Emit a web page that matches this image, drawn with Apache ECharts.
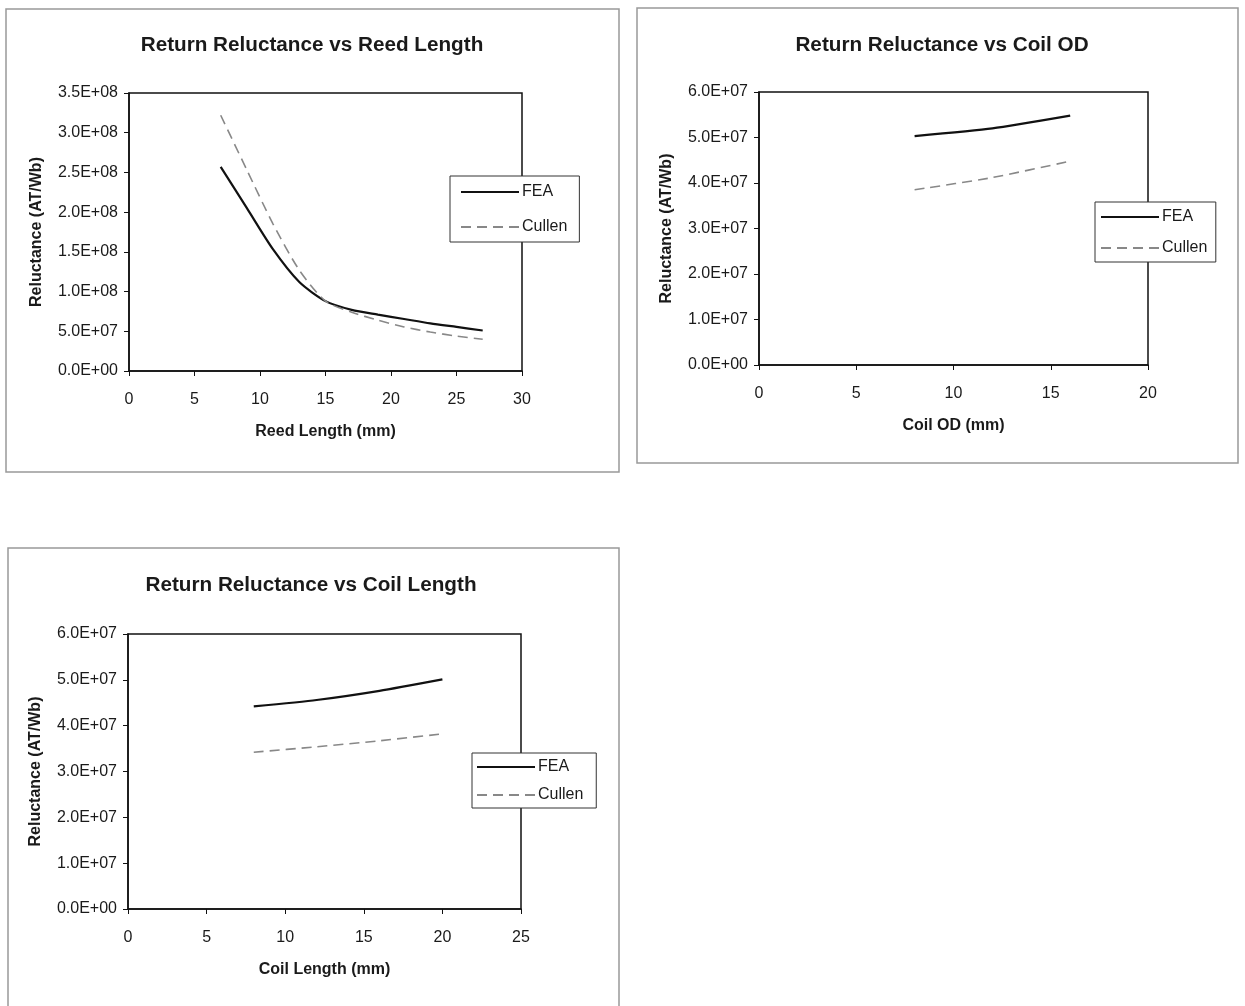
<!DOCTYPE html>
<html>
<head>
<meta charset="utf-8">
<script src="https://cdn.jsdelivr.net/npm/echarts@6/dist/echarts.min.js"></script>
<style>
  html, body { margin: 0; padding: 0; background: #fff; }
  #main { width: 1245px; height: 1006px; }
</style>
</head>
<body>
<div id="main"></div>
<script>
// chart 1: reed length
var reedLength = [7, 9, 11, 13, 15, 17, 19, 21, 23, 25, 27];
var reedFEA = [2.57e8, 2.05e8, 1.53e8, 1.12e8, 0.88e8, 0.77e8, 0.71e8, 0.655e8, 0.60e8, 0.555e8, 0.51e8];
var reedCullen = [3.22e8, 2.53e8, 1.85e8, 1.27e8, 0.88e8, 0.74e8, 0.64e8, 0.555e8, 0.49e8, 0.44e8, 0.40e8];

// chart 2: coil OD
var coilOD = [8, 12, 16];
var odFEA = [5.03e7, 5.2e7, 5.48e7];
var odCullen = [3.85e7, 4.12e7, 4.48e7];

// chart 3: coil length
var coilLength = [8, 12, 16, 20];
var lenFEA = [4.42e7, 4.56e7, 4.76e7, 5.01e7];
var lenCullen = [3.42e7, 3.54e7, 3.67e7, 3.82e7];

var titles = ['Return Reluctance vs Reed Length', 'Return Reluctance vs Coil OD', 'Return Reluctance vs Coil Length'];
var xNames = ['Reed Length (mm)', 'Coil OD (mm)', 'Coil Length (mm)'];
var yName = 'Reluctance (AT/Wb)';

var FONT = '"Liberation Sans", Arial, sans-serif';
var INK = '#1a1a1a';

function sci(v) {
  if (v === 0) return '0.0E+00';
  var e = Math.floor(Math.log10(Math.abs(v)) + 1e-9);
  var m = v / Math.pow(10, e);
  var es = (e < 0 ? '-' : '+') + (Math.abs(e) < 10 ? '0' : '') + Math.abs(e);
  return m.toFixed(1) + 'E' + es;
}

function pairs(xs, ys) {
  var out = [];
  for (var i = 0; i < xs.length; i++) out.push([xs[i], ys[i]]);
  return out;
}

var grids = [
  { left: 129, top: 93, width: 393, height: 278 },
  { left: 759, top: 92, width: 389, height: 273 },
  { left: 128, top: 634, width: 393, height: 275 }
];
var xMax = [30, 20, 25];
var yMax = [3.5e8, 6e7, 6e7];
var yStep = [5e7, 1e7, 1e7];
var smoothness = [0.25, 0.2, 0.2];

var option = {
  backgroundColor: '#fff',
  animation: false,
  textStyle: { fontFamily: FONT },
  title: [
    { text: titles[0], left: 307, top: 30, textAlign: 'center' },
    { text: titles[1], left: 937, top: 30, textAlign: 'center' },
    { text: titles[2], left: 306, top: 570, textAlign: 'center' }
  ].map(function (t) {
    t.textStyle = { fontFamily: FONT, fontSize: 20.7, fontWeight: 'bold', color: INK };
    return t;
  }),
  grid: grids.map(function (g) {
    return Object.assign({ show: true, borderColor: '#111', borderWidth: 1.5, backgroundColor: '#fff' }, g);
  }),
  xAxis: grids.map(function (g, i) {
    return {
      type: 'value', gridIndex: i, min: 0, max: xMax[i], interval: 5,
      name: xNames[i], nameLocation: 'middle', nameGap: 53,
      nameTextStyle: { fontFamily: FONT, fontSize: 16, fontWeight: 'bold', color: INK },
      axisLine: { lineStyle: { color: '#111', width: 1.5 } },
      axisTick: { length: 5, lineStyle: { color: '#111' } },
      axisLabel: { margin: 21, fontSize: 16, color: INK, fontFamily: FONT },
      splitLine: { show: false }
    };
  }),
  yAxis: grids.map(function (g, i) {
    return {
      type: 'value', gridIndex: i, min: 0, max: yMax[i], interval: yStep[i],
      name: yName, nameLocation: 'middle', nameGap: 84,
      nameTextStyle: { fontFamily: FONT, fontSize: 16, fontWeight: 'bold', color: INK },
      axisLine: { show: true, lineStyle: { color: '#111', width: 1.5 } },
      axisTick: { show: true, length: 5, lineStyle: { color: '#111' } },
      axisLabel: { margin: 11, fontSize: 16, color: INK, fontFamily: FONT, formatter: sci },
      splitLine: { show: false }
    };
  }),
  legend: [
    { left: 450, top: 176, padding: [8, 12, 7, 10], itemGap: 19 },
    { left: 1095, top: 202, padding: [7, 4, 6, 5], itemGap: 15 },
    { left: 472, top: 753, padding: [6, 4, 5, 4], itemGap: 12 }
  ].map(function (l, i) {
    var suffix = ' '.repeat(i);
    return Object.assign({
      orient: 'vertical',
      data: ['FEA' + suffix, 'Cullen' + suffix],
      itemWidth: 58, itemHeight: 16,
      itemStyle: { opacity: 0 },
      backgroundColor: '#fff', borderColor: '#333', borderWidth: 1, borderRadius: 0,
      textStyle: { fontFamily: FONT, fontSize: 16, color: INK, padding: [0, 0, 0, -2] },
      z: 10
    }, l);
  }),
  series: []
};

var sets = [
  [reedLength, reedFEA, reedCullen],
  [coilOD, odFEA, odCullen],
  [coilLength, lenFEA, lenCullen]
];
sets.forEach(function (s, i) {
  var suffix = ' '.repeat(i);
  option.series.push({
    name: 'FEA' + suffix, type: 'line', xAxisIndex: i, yAxisIndex: i,
    data: pairs(s[0], s[1]), symbol: 'none', smooth: smoothness[i],
    lineStyle: { color: '#111', width: 2.2 }, itemStyle: { color: '#111' }
  });
  option.series.push({
    name: 'Cullen' + suffix, type: 'line', xAxisIndex: i, yAxisIndex: i,
    data: pairs(s[0], s[2]), symbol: 'none', smooth: smoothness[i],
    lineStyle: { color: '#888', width: 1.6, type: [10, 6] }, itemStyle: { color: '#888' }
  });
});

// panel borders
option.graphic = [
  { type: 'rect', shape: { x: 6, y: 9, width: 613, height: 463 } },
  { type: 'rect', shape: { x: 637, y: 8, width: 601, height: 455 } },
  { type: 'rect', shape: { x: 8, y: 548, width: 611, height: 470 } }
].map(function (r) {
  r.style = { fill: 'none', stroke: '#999', lineWidth: 1.5 };
  r.silent = true;
  return r;
});

var chart = echarts.init(document.getElementById('main'), null, { renderer: 'canvas' });
chart.setOption(option);
</script>
</body>
</html>
